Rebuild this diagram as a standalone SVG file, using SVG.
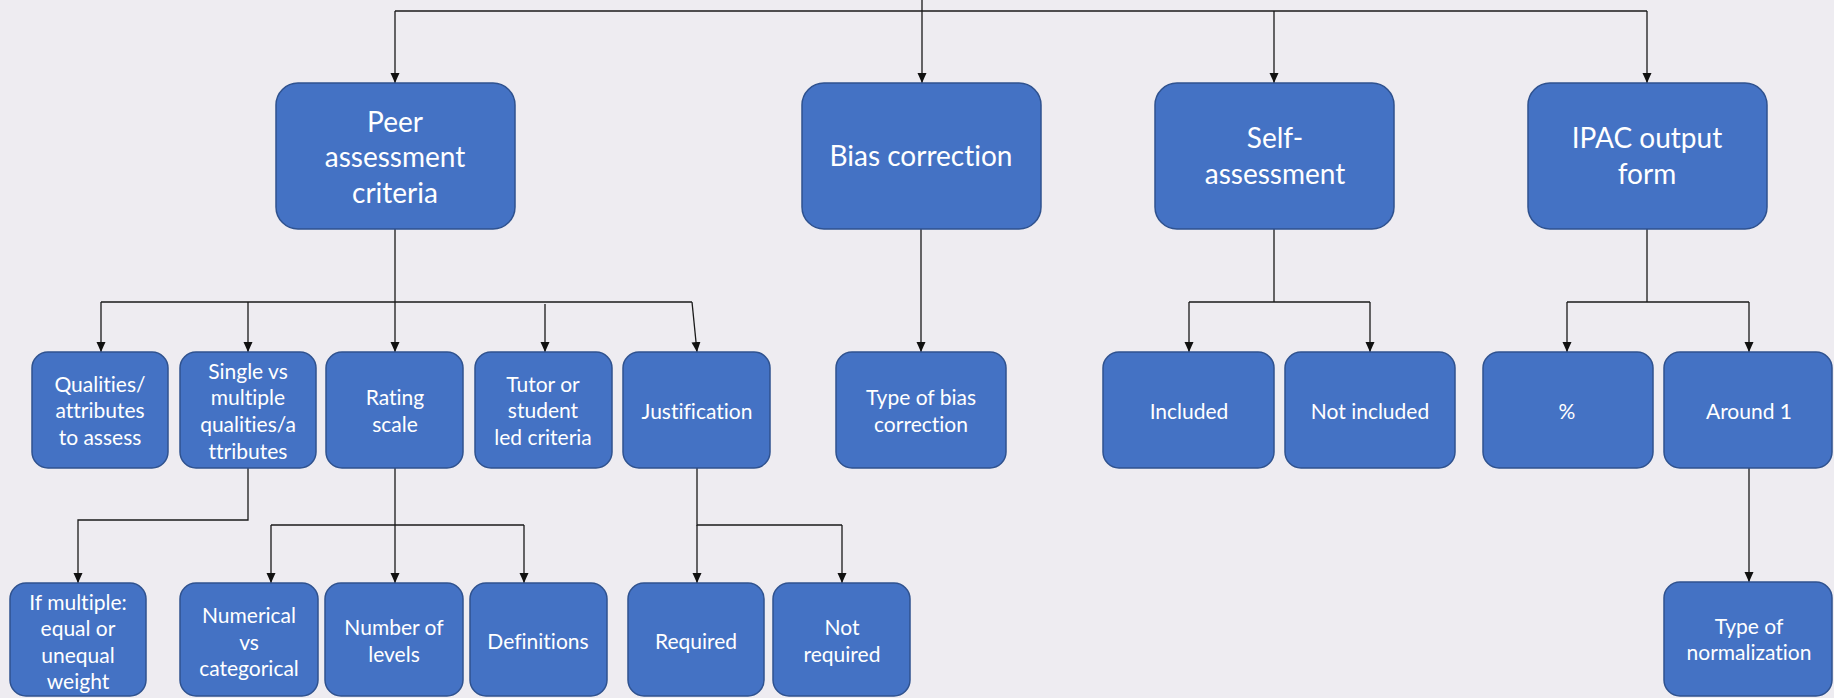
<svg xmlns="http://www.w3.org/2000/svg" width="1834" height="698" viewBox="0 0 1834 698">
  <defs>
    <marker id="arrow" viewBox="0 0 10 10" refX="10" refY="5" markerWidth="10" markerHeight="10" markerUnits="userSpaceOnUse" orient="auto">
      <path d="M0,0.5 L10,5 L0,9.5 Z" fill="#111"/>
    </marker>
    <style>
      .box { fill: #4472C4; stroke: #2F528F; stroke-width: 1.5; }
      text { font-family: Lato, "Open Sans", sans-serif; fill: #FFFFFF; text-anchor: middle; font-variant-ligatures: none; font-feature-settings: "liga" 0, "dlig" 0; }
      .t1 { font-size: 28px; }
      .t2 { font-size: 21px; }
      .link { fill: none; stroke: #1a1a1a; stroke-width: 1.3; }
      .arr { marker-end: url(#arrow); }
    </style>
  </defs>

  <rect x="0" y="0" width="1834" height="698" fill="#EEECF1"/>

  <!-- connectors -->
  <g id="connectors">
    <!-- root bar -->
    <path class="link" d="M395,11 H1647"/>
    <path class="link arr" d="M395,11 V83"/>
    <path class="link arr" d="M922,0 V83"/>
    <path class="link arr" d="M1274,11 V83"/>
    <path class="link arr" d="M1647,11 V83"/>

    <!-- peer assessment criteria -->
    <path class="link" d="M395,229 V302 M101,302 H692"/>
    <path class="link arr" d="M101,302 V352"/>
    <path class="link arr" d="M248,302 V352"/>
    <path class="link arr" d="M395,302 V352"/>
    <path class="link arr" d="M545,304 V352"/>
    <path class="link arr" d="M692,302 L697,352"/>

    <!-- bias correction -->
    <path class="link arr" d="M921,229 V352"/>

    <!-- self-assessment -->
    <path class="link" d="M1274,229 V302 M1189,302 H1370"/>
    <path class="link arr" d="M1189,302 V352"/>
    <path class="link arr" d="M1370,302 V352"/>

    <!-- IPAC output form -->
    <path class="link" d="M1647,229 V302 M1567,302 H1749"/>
    <path class="link arr" d="M1567,302 V352"/>
    <path class="link arr" d="M1749,302 V352"/>

    <!-- single vs multiple -->
    <path class="link arr" d="M248,468 V520 H78 V583"/>

    <!-- rating scale -->
    <path class="link" d="M271,525 H524"/>
    <path class="link arr" d="M395,468 V583"/>
    <path class="link arr" d="M271,525 V583"/>
    <path class="link arr" d="M524,525 V583"/>

    <!-- justification -->
    <path class="link" d="M697,468 V525 H842"/>
    <path class="link arr" d="M697,525 V583"/>
    <path class="link arr" d="M842,525 V583"/>

    <!-- around 1 -->
    <path class="link arr" d="M1749,468 V582"/>
  </g>

  <!-- top level -->
  <g id="peer-criteria">
    <rect class="box" x="276" y="83" width="239" height="146" rx="22"/>
    <text class="t1" x="395" y="132">Peer</text>
    <text class="t1" x="395" y="167">assessment</text>
    <text class="t1" x="395" y="203">criteria</text>
  </g>
  <g id="bias-correction">
    <rect class="box" x="802" y="83" width="239" height="146" rx="22"/>
    <text class="t1" x="921" y="166">Bias correction</text>
  </g>
  <g id="self-assessment">
    <rect class="box" x="1155" y="83" width="239" height="146" rx="22"/>
    <text class="t1" x="1275" y="148">Self-</text>
    <text class="t1" x="1275" y="184">assessment</text>
  </g>
  <g id="ipac-output">
    <rect class="box" x="1528" y="83" width="239" height="146" rx="22"/>
    <text class="t1" x="1647" y="148">IPAC output</text>
    <text class="t1" x="1647" y="184">form</text>
  </g>

  <!-- second level -->
  <g id="qualities">
    <rect class="box" x="32" y="352" width="136" height="116" rx="16"/>
    <text class="t2" x="100" y="392">Qualities/</text>
    <text class="t2" x="100" y="418">attributes</text>
    <text class="t2" x="100" y="445">to assess</text>
  </g>
  <g id="single-multiple">
    <rect class="box" x="180" y="352" width="136" height="116" rx="16"/>
    <text class="t2" x="248" y="379">Single vs</text>
    <text class="t2" x="248" y="405">multiple</text>
    <text class="t2" x="248" y="432">qualities/a</text>
    <text class="t2" x="248" y="459">ttributes</text>
  </g>
  <g id="rating-scale">
    <rect class="box" x="326" y="352" width="137" height="116" rx="16"/>
    <text class="t2" x="395" y="405">Rating</text>
    <text class="t2" x="395" y="432">scale</text>
  </g>
  <g id="tutor-student">
    <rect class="box" x="475" y="352" width="137" height="116" rx="16"/>
    <text class="t2" x="543" y="392">Tutor or</text>
    <text class="t2" x="543" y="418">student</text>
    <text class="t2" x="543" y="445">led criteria</text>
  </g>
  <g id="justification">
    <rect class="box" x="623" y="352" width="147" height="116" rx="16"/>
    <text class="t2" x="697" y="419">Justification</text>
  </g>
  <g id="bias-type">
    <rect class="box" x="836" y="352" width="170" height="116" rx="16"/>
    <text class="t2" x="921" y="405">Type of bias</text>
    <text class="t2" x="921" y="432">correction</text>
  </g>
  <g id="included">
    <rect class="box" x="1103" y="352" width="171" height="116" rx="16"/>
    <text class="t2" x="1189" y="419">Included</text>
  </g>
  <g id="not-included">
    <rect class="box" x="1285" y="352" width="170" height="116" rx="16"/>
    <text class="t2" x="1370" y="419">Not included</text>
  </g>
  <g id="percent">
    <rect class="box" x="1483" y="352" width="170" height="116" rx="16"/>
    <text class="t2" x="1567" y="419">%</text>
  </g>
  <g id="around-one">
    <rect class="box" x="1664" y="352" width="168" height="116" rx="16"/>
    <text class="t2" x="1749" y="419">Around 1</text>
  </g>

  <!-- third level -->
  <g id="weighting">
    <rect class="box" x="10" y="583" width="136" height="113" rx="16"/>
    <text class="t2" x="78" y="610">If multiple:</text>
    <text class="t2" x="78" y="636">equal or</text>
    <text class="t2" x="78" y="663">unequal</text>
    <text class="t2" x="78" y="689">weight</text>
  </g>
  <g id="numerical-categorical">
    <rect class="box" x="180" y="583" width="138" height="113" rx="16"/>
    <text class="t2" x="249" y="623">Numerical</text>
    <text class="t2" x="249" y="650">vs</text>
    <text class="t2" x="249" y="676">categorical</text>
  </g>
  <g id="number-levels">
    <rect class="box" x="325" y="583" width="138" height="113" rx="16"/>
    <text class="t2" x="394" y="635">Number of</text>
    <text class="t2" x="394" y="662">levels</text>
  </g>
  <g id="definitions">
    <rect class="box" x="470" y="583" width="137" height="113" rx="16"/>
    <text class="t2" x="538" y="649">Definitions</text>
  </g>
  <g id="required">
    <rect class="box" x="628" y="583" width="136" height="113" rx="16"/>
    <text class="t2" x="696" y="649">Required</text>
  </g>
  <g id="not-required">
    <rect class="box" x="773" y="583" width="137" height="113" rx="16"/>
    <text class="t2" x="842" y="635">Not</text>
    <text class="t2" x="842" y="662">required</text>
  </g>
  <g id="normalization">
    <rect class="box" x="1664" y="582" width="168" height="114" rx="16"/>
    <text class="t2" x="1749" y="634">Type of</text>
    <text class="t2" x="1749" y="660">normalization</text>
  </g>
</svg>
